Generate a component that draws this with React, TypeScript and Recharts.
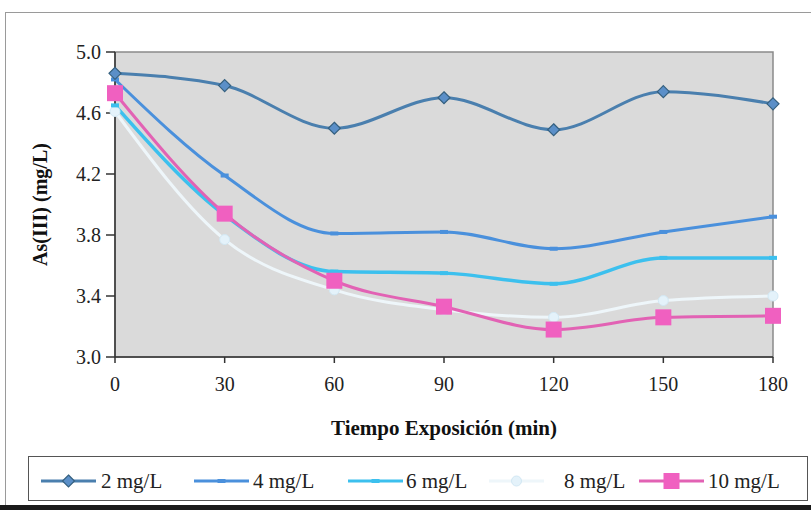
import React from 'react';
import { LineChart, Line, XAxis, YAxis, ReferenceArea, Legend, Label } from 'recharts';

const times = [0, 30, 60, 90, 120, 150, 180];
const s2 = [4.86, 4.78, 4.5, 4.7, 4.49, 4.74, 4.66];
const s4 = [4.82, 4.19, 3.81, 3.82, 3.71, 3.82, 3.92];
const s6 = [4.65, 3.93, 3.56, 3.55, 3.48, 3.65, 3.65];
const s8 = [4.61, 3.77, 3.44, 3.31, 3.26, 3.37, 3.4];
const s10 = [4.73, 3.94, 3.5, 3.33, 3.18, 3.26, 3.27];
const yTicks = [3.0, 3.4, 3.8, 4.2, 4.6, 5.0];
const xTicks = [0, 30, 60, 90, 120, 150, 180];
const seriesNames = ['2 mg/L', '4 mg/L', '6 mg/L', '8 mg/L', '10 mg/L'];

const data = times.map((t, i) => ({
  t,
  s2: s2[i],
  s4: s4[i],
  s6: s6[i],
  s8: s8[i],
  s10: s10[i],
}));

const FONT = '"Liberation Serif", serif';

const C2 = '#4a7fae';
const C4 = '#4a90dc';
const C6 = '#3cc0ee';
const C8 = '#eef6fa';
const C10 = '#e262b4';

// marker shapes
const Diamond = ({ cx, cy }: any) =>
  cx == null ? null : (
    <path d={`M${cx},${cy - 6} L${cx + 6},${cy} L${cx},${cy + 6} L${cx - 6},${cy} Z`} fill="#5b8fc8" stroke="#35607f" strokeWidth={1.2} />
  );
const Dash = (color: string) => ({ cx, cy }: any) =>
  cx == null ? null : <rect x={cx - 4} y={cy - 2} width={8} height={4} fill={color} />;
const Star = ({ cx, cy }: any) =>
  cx == null ? null : <circle cx={cx} cy={cy} r={5} fill="#e4f2fa" stroke="#d2e8f4" />;
const Square = ({ cx, cy }: any) =>
  cx == null ? null : <rect x={cx - 8} y={cy - 8} width={16} height={16} fill="#f060c0" />;

const legendItems = [
  { line: [12, 67], text: 72, color: C2, marker: 'diamond' },
  { line: [165, 220], text: 224, color: C4, marker: 'dash' },
  { line: [319, 374], text: 377, color: C6, marker: 'dash' },
  { line: [460, 515], text: 535, color: C8, marker: 'star' },
  { line: [610, 675], text: 679, color: C10, marker: 'square' },
];

const renderLegend = () => (
  <div style={{ position: 'relative', width: 780, height: 45 }}>
    <svg width={780} height={45} style={{ position: 'absolute', left: 0, top: 0 }}>
      {legendItems.map((it, i) => {
        const mx = (it.line[0] + it.line[1]) / 2;
        const cy = 24;
        return (
          <g key={i}>
            <line x1={it.line[0]} x2={it.line[1]} y1={cy} y2={cy} stroke={it.color} strokeWidth={3} />
            {it.marker === 'diamond' && <Diamond cx={mx} cy={cy} />}
            {it.marker === 'dash' && Dash(it.color)({ cx: mx, cy })}
            {it.marker === 'star' && <Star cx={mx} cy={cy} />}
            {it.marker === 'square' && <Square cx={mx} cy={cy} />}
            <text x={it.text} y={cy + 7} fontFamily={FONT} fontSize={21} fill="#222">
              {seriesNames[i]}
            </text>
          </g>
        );
      })}
    </svg>
  </div>
);

export default function App() {
  return (
    <div style={{ position: 'absolute', left: 0, top: 0, width: 811, height: 510, background: '#fff', overflow: 'hidden' }}>
      <div style={{ position: 'absolute', left: 5, top: 12, width: 830, height: 492, border: '1px solid #9a9a9a' }} />
      <div style={{ position: 'absolute', left: 0, top: 505, width: 811, height: 5, background: '#1a1a1a' }} />
      <LineChart
        width={811}
        height={510}
        data={data}
        margin={{ top: 52, right: 38, left: 0, bottom: 28 }}
        style={{ position: 'absolute', left: 0, top: 0 }}
      >
        <ReferenceArea x1={0} x2={180} y1={3} y2={5} fill="#dadada" fillOpacity={1} stroke="#8a8a8a" strokeWidth={1.5} ifOverflow="extendDomain" />
        <XAxis
          dataKey="t"
          type="number"
          domain={[0, 180]}
          ticks={xTicks}
          height={80}
          stroke="#333"
          strokeWidth={1.5}
          tickSize={6}
          tick={{ fontFamily: FONT, fontSize: 20, fill: '#222' }}
          tickMargin={14}
        >
          <Label value="Tiempo Exposición (min)" position="insideBottom" offset={2} style={{ fontFamily: FONT, fontSize: 21, fontWeight: 'bold', fill: '#111' }} />
        </XAxis>
        <YAxis
          type="number"
          domain={[3, 5]}
          ticks={yTicks}
          width={115}
          stroke="#333"
          strokeWidth={1.5}
          tickSize={9}
          tickMargin={5}
          tickFormatter={(v: number) => v.toFixed(1)}
          tick={{ fontFamily: FONT, fontSize: 20, fill: '#222' }}
        >
          <Label value="As(III) (mg/L)" angle={-90} position="insideLeft" offset={40} style={{ fontFamily: FONT, fontSize: 20, fontWeight: 'bold', fill: '#111', textAnchor: 'middle' }} />
        </YAxis>
        <Line type="monotone" dataKey="s8" stroke={C8} strokeWidth={3} dot={<Star />} isAnimationActive={false} />
        <Line type="monotone" dataKey="s6" stroke={C6} strokeWidth={3.5} dot={Dash(C6)} isAnimationActive={false} />
        <Line type="monotone" dataKey="s10" stroke={C10} strokeWidth={3} dot={<Square />} isAnimationActive={false} />
        <Line type="monotone" dataKey="s4" stroke={C4} strokeWidth={3} dot={Dash(C4)} isAnimationActive={false} />
        <Line type="monotone" dataKey="s2" stroke={C2} strokeWidth={3} dot={<Diamond />} isAnimationActive={false} />
        <Legend
          content={renderLegend}
          layout="horizontal"
          verticalAlign="bottom"
          wrapperStyle={{ position: 'absolute', left: 28, top: 456, width: 780, height: 45, border: '1px solid #555', background: '#fff', boxSizing: 'border-box' }}
        />
      </LineChart>
    </div>
  );
}
